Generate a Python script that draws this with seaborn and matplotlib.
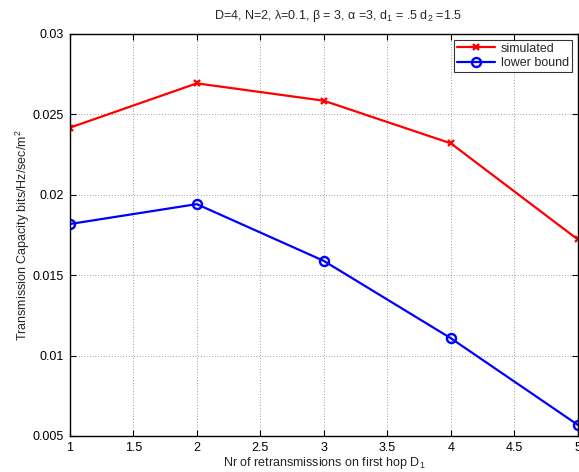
import numpy as np
import pandas as pd
import matplotlib
matplotlib.use("Agg")
import matplotlib.pyplot as plt
import seaborn as sns

# ===============================
# DATOS
# ===============================
d1 = [1, 2, 3, 4, 5]
simulated = [0.02417, 0.02693, 0.02585, 0.02320, 0.01722]
lower_bound = [0.01818, 0.01942, 0.01589, 0.01108, 0.00569]
series_names = ["simulated", "lower bound"]
x_ticks = [1, 1.5, 2, 2.5, 3, 3.5, 4, 4.5, 5]
y_ticks = [0.005, 0.01, 0.015, 0.02, 0.025, 0.03]

df = pd.DataFrame({
    "D1": d1 * 2,
    "cap": simulated + lower_bound,
    "serie": [series_names[0]] * 5 + [series_names[1]] * 5,
})

# ===============================
# ESTILO tipo MATLAB
# ===============================
sns.set_style("white")
plt.rcParams["font.family"] = ["Liberation Sans", "DejaVu Sans"]
plt.rcParams["mathtext.fontset"] = "custom"
plt.rcParams["mathtext.rm"] = "Liberation Sans"
plt.rcParams["mathtext.it"] = "Liberation Sans"
plt.rcParams["font.size"] = 9

fig = plt.figure(figsize=(5.79, 4.72), dpi=100)
ax = fig.add_axes([0.1204, 0.0763, 0.8776, 0.8517])

estilos = {
    "simulated": dict(color="#ff0000", marker="x", ms=5),
    "lower bound": dict(color="#0000ff", marker="o", ms=6.5),
}
for nombre in series_names:
    sub = df[df["serie"] == nombre]
    sns.lineplot(data=sub, x="D1", y="cap", ax=ax, color=estilos[nombre]["color"],
                 marker=estilos[nombre]["marker"], label=nombre, linewidth=1.6,
                 markersize=estilos[nombre]["ms"], markeredgewidth=1.7,
                 markeredgecolor=estilos[nombre]["color"], markerfacecolor="none")

ax.set_xlim(1, 5)
ax.set_ylim(0.005, 0.03)
ax.set_xticks(x_ticks)
ax.set_xticklabels([f"{t:g}" for t in x_ticks])
ax.set_yticks(y_ticks)
ax.set_yticklabels([f"{t:g}" for t in y_ticks])

ax.grid(True, linestyle=(0, (1, 3)), color="#444444", linewidth=0.5)
for s in ax.spines.values():
    s.set_visible(True)
    s.set_color("black")
    s.set_linewidth(1.0)
ax.tick_params(direction="in", length=4, width=0.8, top=True, right=True,
               bottom=True, left=True, labelsize=9, pad=4, colors="black")

ax.set_xlabel("Nr of retransmissions on first hop D$_1$", fontsize=9, labelpad=1)
ax.set_ylabel("Transmission Capacity bits/Hz/sec/m$^2$", fontsize=9, labelpad=1)
ax.set_title(r"D=4, N=2, $\lambda$=0.1, $\beta$ = 3, $\alpha$ =3, d$_1$ = .5 d$_2$ =1.5",
             fontsize=9, x=0.528, pad=11)

handles = ax.get_lines()[:2]
leg = ax.legend(handles, series_names, loc="upper right", fontsize=9,
                frameon=True, fancybox=False, edgecolor="black",
                borderaxespad=0.45, handlelength=3.0, borderpad=0.25,
                labelspacing=0.2, handletextpad=0.5)
leg.get_frame().set_linewidth(0.8)

fig.savefig("out.png", dpi=100)
